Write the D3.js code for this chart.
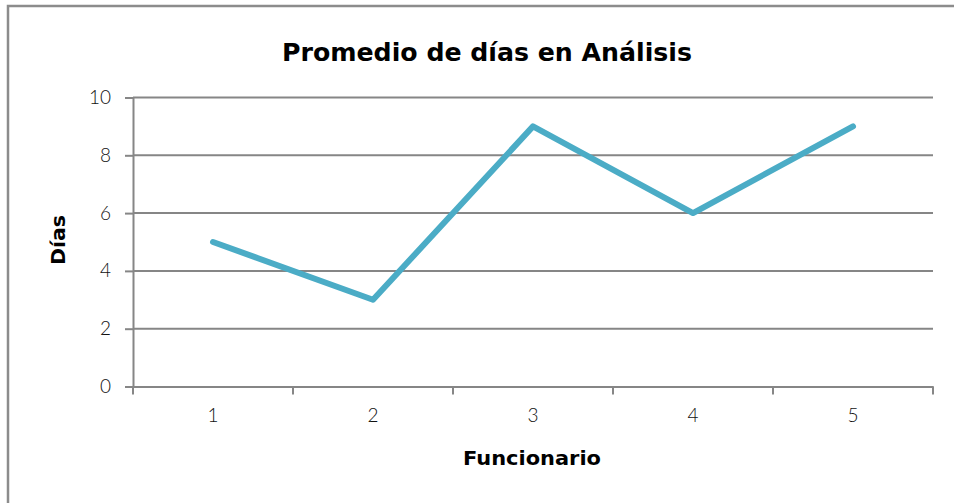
<!DOCTYPE html>
<html>
<head>
<meta charset="utf-8">
<script src="https://cdn.jsdelivr.net/npm/d3@7"></script>
<style>
  html, body { margin: 0; padding: 0; background: #fff; }
  svg { display: block; }
  text { font-family: "Lato", "Open Sans", "DejaVu Sans", sans-serif; }
</style>
</head>
<body>
<svg id="chart" width="954" height="503"></svg>
<script>
// Average days in analysis per staff member
const categories = ["1", "2", "3", "4", "5"];
const values = [5, 3, 9, 6, 9];
const yTicks = [0, 2, 4, 6, 8, 10];
const title = "Promedio de días en Análisis";
const xTitle = "Funcionario";
const yTitle = "Días";

const svg = d3.select("#chart");
const W = 954, H = 503;
const margin = { left: 133, right: 21, top: 97.5, bottom: 116.5 };
const gridColor = "#868686";
const lineColor = "#4BACC6";
const boldFont = "'DejaVu Sans', sans-serif";

// Outer frame
svg.append("rect")
  .attr("x", 8).attr("y", 6)
  .attr("width", W + 10).attr("height", H + 10)
  .attr("fill", "#fff")
  .attr("stroke", "#8c8c8c")
  .attr("stroke-width", 2.5);

const x = d3.scaleBand()
  .domain(categories)
  .range([margin.left, W - margin.right])
  .paddingInner(0).paddingOuter(0);

const y = d3.scaleLinear()
  .domain([0, 10])
  .range([H - margin.bottom, margin.top]);

// Horizontal gridlines
svg.append("g")
  .selectAll("line")
  .data(yTicks.filter(d => d > 0))
  .join("line")
  .attr("x1", margin.left).attr("x2", W - margin.right)
  .attr("y1", d => y(d)).attr("y2", d => y(d))
  .attr("stroke", gridColor).attr("stroke-width", 2);

// Y axis
const yAxis = svg.append("g")
  .attr("transform", `translate(${margin.left},0)`)
  .call(d3.axisLeft(y).tickValues(yTicks).tickSize(8).tickPadding(14).tickFormat(d3.format("d")));
yAxis.select(".domain").attr("stroke", gridColor).attr("stroke-width", 2);
yAxis.selectAll(".tick line").attr("stroke", gridColor).attr("stroke-width", 2);
yAxis.selectAll(".tick text")
  .attr("font-size", 19).attr("fill", "#111")
  .style("font-family", "Lato, sans-serif").style("font-weight", 300);

// X axis with ticks on category boundaries
const xAxis = svg.append("g")
  .attr("transform", `translate(0,${y(0)})`)
  .call(d3.axisBottom(x).tickSize(0).tickPadding(22));
xAxis.select(".domain").attr("stroke", gridColor).attr("stroke-width", 2);
xAxis.selectAll(".tick text")
  .attr("font-size", 19).attr("fill", "#111")
  .style("font-family", "Lato, sans-serif").style("font-weight", 300);
const bounds = categories.map(c => x(c)).concat([x(categories[categories.length - 1]) + x.bandwidth()]);
svg.append("g")
  .selectAll("line")
  .data(bounds)
  .join("line")
  .attr("x1", d => d).attr("x2", d => d)
  .attr("y1", y(0)).attr("y2", y(0) + 8)
  .attr("stroke", gridColor).attr("stroke-width", 2);

// Data line
const line = d3.line()
  .x((d, i) => x(categories[i]) + x.bandwidth() / 2)
  .y(d => y(d));
svg.append("path")
  .datum(values)
  .attr("d", line)
  .attr("fill", "none")
  .attr("stroke", lineColor)
  .attr("stroke-width", 6)
  .attr("stroke-linejoin", "round")
  .attr("stroke-linecap", "round");

// Titles
svg.append("text")
  .attr("x", 487).attr("y", 61)
  .attr("text-anchor", "middle")
  .attr("font-size", 25).attr("font-weight", "bold").attr("fill", "#000")
  .style("font-family", boldFont)
  .attr("textLength", 410).attr("lengthAdjust", "spacingAndGlyphs")
  .text(title);

svg.append("text")
  .attr("x", 532).attr("y", 465)
  .attr("text-anchor", "middle")
  .attr("font-size", 20).attr("font-weight", "bold").attr("fill", "#000")
  .style("font-family", boldFont)
  .attr("textLength", 138).attr("lengthAdjust", "spacingAndGlyphs")
  .text(xTitle);

svg.append("text")
  .attr("transform", "translate(65,240) rotate(-90)")
  .attr("text-anchor", "middle")
  .attr("font-size", 20).attr("font-weight", "bold").attr("fill", "#000")
  .style("font-family", boldFont)
  .attr("textLength", 50).attr("lengthAdjust", "spacingAndGlyphs")
  .text(yTitle);
</script>
</body>
</html>
